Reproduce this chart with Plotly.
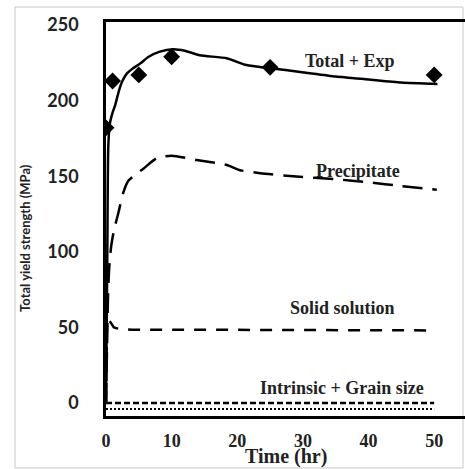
import plotly.graph_objects as go

# ---- data ----
total_t = [0, 0.2, 0.35, 0.6, 1.0, 1.4, 2.0, 2.5, 3.2, 4.0, 5.2, 6.5, 8.2, 10.2, 12, 14.3, 18.4, 21.4, 25, 29.6, 35, 40, 45, 50.5]
total_y = [0, 100, 170, 185, 192, 197, 207, 213, 218, 221, 224.5, 229, 232.4, 234, 233, 230, 228, 223.5, 221.4, 219, 216, 214, 212, 211]

precip_t = [0, 0.15, 0.3, 0.5, 0.8, 1.2, 1.9, 2.6, 3.4, 4.5, 5.7, 7.7, 10, 13.8, 18.4, 20.4, 23.5, 28.5, 35, 40, 45, 50.4]
precip_y = [0, 35, 70, 90, 104, 114, 126, 138.7, 147, 151, 155, 161.8, 163.6, 160.7, 157.4, 154, 152, 150, 148, 146, 143.5, 141]

solid_t = [0, 0.15, 0.3, 0.7, 1.2, 2.0, 4.0, 10, 20, 30, 40, 50]
solid_y = [0, 50, 56, 53, 50, 49, 48.5, 48.5, 48.3, 48.2, 48.1, 48]

intrinsic_t = [0, 50]
intrinsic_y = [0, 0]

grain_t = [0, 50]
grain_y = [-4, -4]

exp_t = [0, 1, 5, 10, 25, 50]
exp_y = [182, 213, 217, 229, 222, 217]

x_ticks = [0, 10, 20, 30, 40, 50]
y_ticks = [0, 50, 100, 150, 200, 250]

labels = ["Total + Exp", "Precipitate", "Solid solution", "Intrinsic + Grain size"]
label_x = [37.2, 38.4, 36.1, 36.0]
label_y = [226, 153.5, 63, 10]

serif = "Liberation Serif"
sans = "Lato"

fig = go.Figure()
fig.add_trace(go.Scatter(x=grain_t, y=grain_y, mode="lines",
                         line=dict(color="black", width=2, dash="2px,2px")))
fig.add_trace(go.Scatter(x=intrinsic_t, y=intrinsic_y, mode="lines",
                         line=dict(color="black", width=2.5, dash="6px,3px")))
fig.add_trace(go.Scatter(x=solid_t, y=solid_y, mode="lines",
                         line=dict(color="black", width=2.5, dash="12px,10px")))
fig.add_trace(go.Scatter(x=precip_t, y=precip_y, mode="lines", line_shape="spline",
                         line=dict(color="black", width=2.5, dash="20px,10px", smoothing=0.6)))
fig.add_trace(go.Scatter(x=total_t, y=total_y, mode="lines", line_shape="spline",
                         line=dict(color="black", width=2.5, smoothing=0.6)))
fig.add_trace(go.Scatter(x=exp_t, y=exp_y, mode="markers",
                         marker=dict(symbol="diamond", size=13, color="black")))

for txt, lx, ly in zip(labels, label_x, label_y):
    fig.add_annotation(x=lx, y=ly, text="<b>" + txt + "</b>", showarrow=False,
                       font=dict(family=serif, size=18, color="#222"))

# axis titles
fig.add_annotation(xref="paper", yref="paper", x=0.5, y=-41 / 394,
                   text="<b>Time (hr)</b>", showarrow=False, yanchor="middle",
                   font=dict(family=serif, size=20, color="#222"))
fig.add_annotation(xref="paper", yref="paper", x=-81 / 359, y=0.452,
                   text="<b>Total yield strength (MPa)</b>", showarrow=False,
                   textangle=-90, xanchor="center", yanchor="middle",
                   font=dict(family=sans, size=13, color="#222"))

# light grey frame around the image
fig.add_shape(type="rect", xref="paper", yref="paper",
              x0=-91 / 359, x1=357 / 359, y0=-52 / 394, y1=409 / 394,
              line=dict(color="#c8c8c8", width=1), layer="below")

fig.update_layout(
    width=465, height=469,
    margin=dict(l=106, r=0, t=22, b=53, autoexpand=False),
    plot_bgcolor="white", paper_bgcolor="white",
    showlegend=False,
    xaxis=dict(range=[0, 54.7], tickvals=x_ticks, showgrid=False, zeroline=False,
               showline=True, linecolor="black", linewidth=2.5, mirror=True,
               ticks="", ticklabelstandoff=7, automargin=False,
               tickfont=dict(family=serif, size=18, color="#222", weight="bold")),
    yaxis=dict(range=[-8.6, 252], tickvals=y_ticks, showgrid=False, zeroline=False,
               showline=True, linecolor="black", linewidth=2.5,
               ticks="", ticklabelstandoff=21, automargin=False,
               tickfont=dict(family=sans, size=18, color="#222", weight="bold")),
)

fig.write_html("out.html", config={"displayModeBar": False},
               post_script="document.body.style.margin='0';")
